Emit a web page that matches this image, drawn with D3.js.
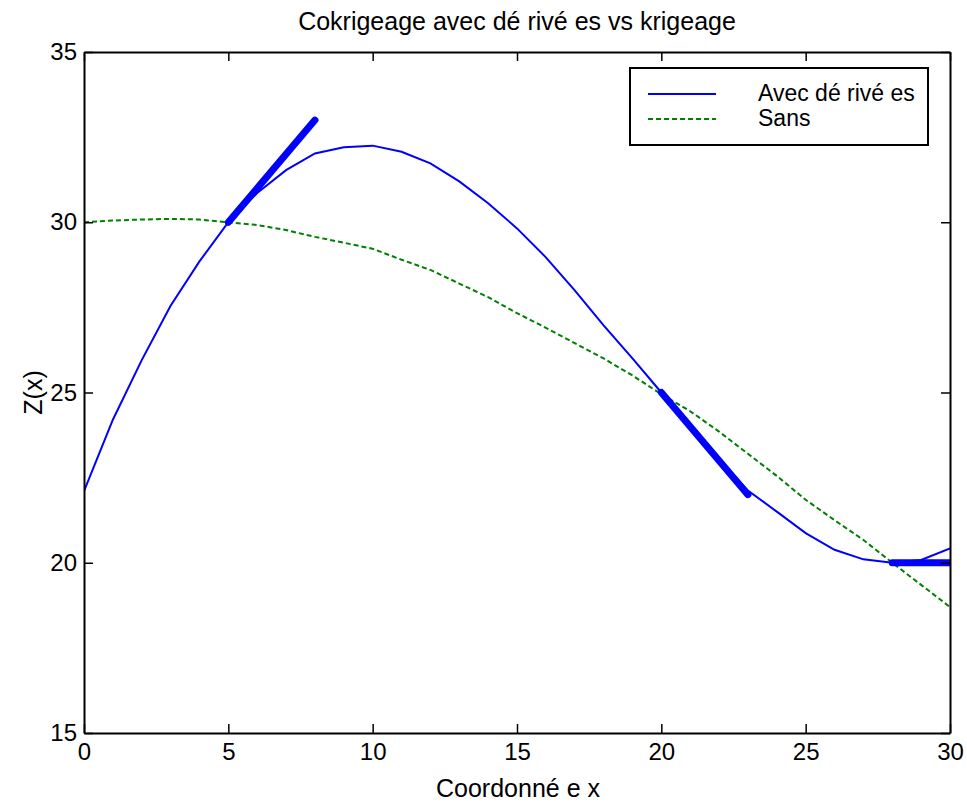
<!DOCTYPE html>
<html>
<head>
<meta charset="utf-8">
<script src="https://cdn.jsdelivr.net/npm/d3@7"></script>
<style>
  body { margin: 0; background: #fff; }
  svg text { font-family: "Liberation Sans", Arial, sans-serif; fill: #000; }
</style>
</head>
<body>
<div id="chart"></div>
<script>
//data
var xs = d3.range(0, 31);
var avecDerivees = [22.1, 24.2, 25.95, 27.55, 28.85, 30.0, 30.86, 31.53, 32.02, 32.2, 32.25,
  32.07, 31.73, 31.2, 30.56, 29.82, 28.97, 28.0, 26.97, 26.0, 25.0,
  24.0, 23.05, 22.12, 21.5, 20.87, 20.38, 20.1, 20.0, 20.08, 20.42];
var sans = [30.0, 30.05, 30.08, 30.1, 30.08, 30.0, 29.92, 29.77, 29.57, 29.4, 29.22,
  28.9, 28.6, 28.2, 27.8, 27.33, 26.9, 26.45, 26.0, 25.5, 24.95,
  24.45, 23.85, 23.2, 22.55, 21.85, 21.25, 20.67, 20.0, 19.35, 18.7];
//derivative segments (thick)
var derivees = [
  [[5, 30], [8, 33]],
  [[20, 25], [23, 22]],
  [[28, 20], [31, 20]]
];
var xTicks = [0, 5, 10, 15, 20, 25, 30];
var yTicks = [15, 20, 25, 30, 35];

//set margins and size of graph
var margin = {top: 52, right: 17, bottom: 70, left: 84},
  width = 967 - margin.left - margin.right,
  height = 803 - margin.top - margin.bottom;

var x = d3.scaleLinear().domain([0, 30]).range([0, width]);
var y = d3.scaleLinear().domain([15, 35]).range([height, 0]);

var svg = d3.select("#chart").append("svg")
    .attr("width", 967)
    .attr("height", 803);

var g = svg.append("g")
    .attr("transform", "translate(" + margin.left + "," + margin.top + ")");

g.append("clipPath").attr("id", "clip")
  .append("rect").attr("width", width).attr("height", height);

var line = d3.line()
    .x(function(d) { return x(d[0]); })
    .y(function(d) { return y(d[1]); });

var plot = g.append("g").attr("clip-path", "url(#clip)");

//krigeage sans derivees
plot.append("path")
    .datum(xs.map(function(v, i) { return [v, sans[i]]; }))
    .attr("d", line)
    .attr("fill", "none")
    .attr("stroke", "#008000")
    .attr("stroke-width", 2)
    .attr("stroke-dasharray", "5,3");

//cokrigeage avec derivees
plot.append("path")
    .datum(xs.map(function(v, i) { return [v, avecDerivees[i]]; }))
    .attr("d", line)
    .attr("fill", "none")
    .attr("stroke", "#0000ff")
    .attr("stroke-width", 2);

plot.selectAll(".deriv")
    .data(derivees)
  .enter().append("path")
    .attr("class", "deriv")
    .attr("d", line)
    .attr("fill", "none")
    .attr("stroke", "#0000ff")
    .attr("stroke-width", 7)
    .attr("stroke-linecap", "round");

//axes, ticks pointing inward
function styleAxis(sel) {
  sel.selectAll("path.domain").attr("stroke", "#000").attr("stroke-width", 2);
  sel.selectAll(".tick line").attr("stroke", "#000").attr("stroke-width", 1.5);
  sel.selectAll(".tick text").style("font-size", "24px");
}

g.append("g")
    .attr("transform", "translate(0," + height + ")")
    .call(d3.axisBottom(x).tickValues(xTicks).tickSize(-9).tickSizeOuter(0).tickPadding(10))
    .call(styleAxis);

g.append("g")
    .call(d3.axisTop(x).tickValues(xTicks).tickSize(-9).tickSizeOuter(0).tickFormat(""))
    .call(styleAxis);

g.append("g")
    .call(d3.axisLeft(y).tickValues(yTicks).tickSize(-9).tickSizeOuter(0).tickPadding(7))
    .call(styleAxis);

g.append("g")
    .attr("transform", "translate(" + width + ",0)")
    .call(d3.axisRight(y).tickValues(yTicks).tickSize(-9).tickSizeOuter(0).tickFormat(""))
    .call(styleAxis);

//title and labels
svg.append("text")
    .attr("x", margin.left + width / 2)
    .attr("y", 30)
    .attr("text-anchor", "middle")
    .style("font-size", "25px")
    .text("Cokrigeage avec dé rivé es vs krigeage");

svg.append("text")
    .attr("x", 518)
    .attr("y", 797)
    .attr("text-anchor", "middle")
    .style("font-size", "25px")
    .text("Coordonné e x");

svg.append("text")
    .attr("transform", "translate(42," + (margin.top + height / 2) + ") rotate(-90)")
    .attr("text-anchor", "middle")
    .style("font-size", "25px")
    .text("Z(x)");

//legend
var legend = svg.append("g").attr("transform", "translate(630,68)");
legend.append("rect")
    .attr("width", 298).attr("height", 77)
    .attr("fill", "#fff").attr("stroke", "#000").attr("stroke-width", 2);

var legendItems = [
  {label: "Avec dé rivé es", color: "#0000ff", dash: null},
  {label: "Sans", color: "#008000", dash: "5,3"}
];
legendItems.forEach(function(d, i) {
  var yy = 26 + i * 25;
  legend.append("line")
      .attr("x1", 18).attr("x2", 86).attr("y1", yy).attr("y2", yy)
      .attr("stroke", d.color).attr("stroke-width", 2)
      .attr("stroke-dasharray", d.dash);
  legend.append("text")
      .attr("x", 128).attr("y", yy + 7)
      .style("font-size", "23px")
      .text(d.label);
});
</script>
</body>
</html>
